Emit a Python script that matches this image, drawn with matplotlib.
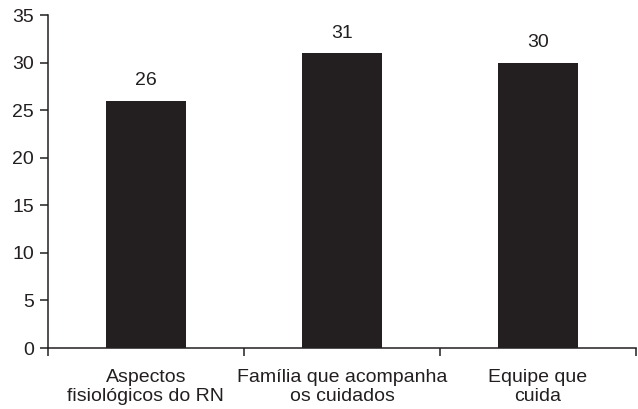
import matplotlib.pyplot as plt
import numpy as np

plt.rcParams['font.family'] = ['Liberation Sans', 'DejaVu Sans']

categories = ["Aspectos\nfisiológicos do RN", "Família que acompanha\nos cuidados", "Equipe que\ncuida"]
values = [26, 31, 30]

fig = plt.figure(figsize=(6.38, 4.09), dpi=100)
ax = fig.add_axes([0.075, 0.149, 0.922, 0.814])

x = np.arange(len(categories))
bars = ax.bar(x, values, width=0.41, color='#231f20')

for xi, v in zip(x, values):
    ax.annotate(str(v), (xi, v), xytext=(0, 11), textcoords='offset points',
                ha='center', va='baseline', fontsize=14, color='#231f20')

ax.set_xlim(-0.5, len(categories) - 0.5)
ax.set_ylim(0, 35)
ax.set_yticks(range(0, 36, 5))

# boundaries get the tick marks, category centres get the labels
ax.set_xticks(np.arange(-0.5, len(categories), 1.0))
ax.set_xticklabels([])
ax.set_xticks(x, minor=True)
ax.set_xticklabels(categories, minor=True, fontsize=14, color='#231f20',
                   linespacing=1.2)
ax.tick_params(axis='x', which='minor', length=0, pad=15)
ax.tick_params(axis='x', which='major', length=6, width=1.1, color='#231f20')
ax.tick_params(axis='y', length=6, width=1.1, color='#231f20', labelsize=14,
               labelcolor='#231f20', pad=4)

for side in ['top', 'right']:
    ax.spines[side].set_visible(False)
for side in ['left', 'bottom']:
    ax.spines[side].set_linewidth(1.1)
    ax.spines[side].set_color('#231f20')

fig.savefig('out.png', dpi=100)
